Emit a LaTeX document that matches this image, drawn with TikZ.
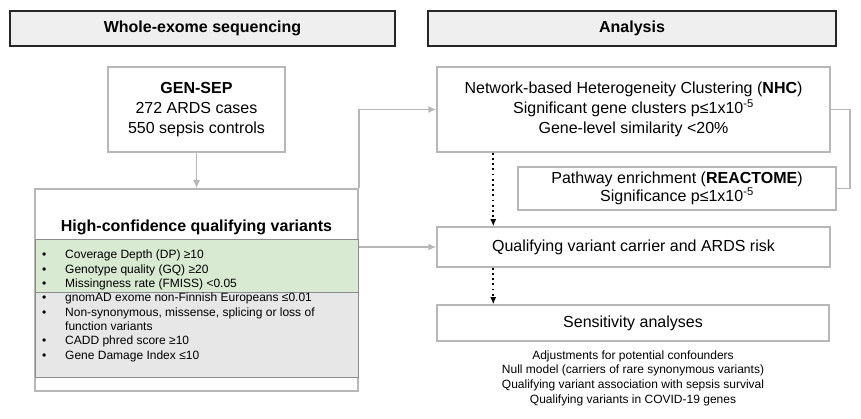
\documentclass[tikz,border=0pt]{standalone}
\usepackage{fontspec}
\setmainfont{Liberation Sans}
\usepackage{xcolor}
\usetikzlibrary{positioning}
\usetikzlibrary{arrows.meta}
\usetikzlibrary{calc}

\definecolor{headfill}{HTML}{EFEFEF}
\definecolor{boxline}{HTML}{B7B7B7}
\definecolor{qcgreen}{HTML}{D9EAD3}
\definecolor{qcgray}{HTML}{E7E7E7}
\definecolor{bandline}{HTML}{8C8C8C}

\begin{document}
\begin{tikzpicture}[x=1pt, y=-1pt,
            font=\fontsize{16}{20}\selectfont,
            head/.style={draw=black!85, fill=headfill, line width=1.5pt, rectangle,
            minimum height=35pt, align=center, font=\fontsize{16}{20}\selectfont\bfseries},
            box/.style={draw=boxline, fill=white, line width=1.5pt, rectangle, align=center},
            band/.style={draw=bandline, line width=1pt, rectangle, minimum width=323pt},
            small/.style={align=left, inner sep=0pt, font=\fontsize{12}{14.4}\selectfont},
            link/.style={draw=boxline, line width=1.5pt, -{Latex[length=8pt,width=7pt]}},
            plain/.style={draw=boxline, line width=1.5pt},
            dotlink/.style={line width=1.8pt, dash pattern=on 1.8pt off 3.4pt,
            -{Latex[length=7pt,width=6pt,sep=0pt]}}]
            \useasboundingbox (0,0) rectangle (861,419);

            % headers
            \node[head, minimum width=385pt] (wes) at (202.5,28.5) {Whole-exome sequencing};
            \node[head, minimum width=408pt] (ana) at (632,28.5) {Analysis};

            % left column
            \node[box, minimum width=177pt, minimum height=85pt] (gensep) at (196.5,109.5)
                {\textbf{GEN-SEP}\\272 ARDS cases\\550 sepsis controls};
            \node[box, minimum width=323pt, minimum height=202pt] (hcqv) at (196.5,290) {};
            \node[band, fill=qcgreen, minimum height=53pt] (qcband) at (196.5,266.5) {};
            \node[band, fill=qcgray, minimum height=84pt] (rareband) at (196.5,335) {};
            \node[font=\fontsize{16}{20}\selectfont\bfseries] (hctitle) at (196.5,227)
                {High-confidence qualifying variants};
            \node[small, anchor=north west] (qclist) at (42,248.5) {%
                \begin{tabular}{@{}p{23pt}@{}l@{}}
                \textbullet & Coverage Depth (DP) ≥10\\
                \textbullet & Genotype quality (GQ) ≥20\\
                \textbullet & Missingness rate (FMISS) <0.05
                \end{tabular}};
            \node[small, anchor=north west] (rarelist) at (42,291.5) {%
                \begin{tabular}{@{}p{23pt}@{}l@{}}
                \textbullet & gnomAD exome non-Finnish Europeans ≤0.01\\
                \textbullet & Non-synonymous, missense, splicing or loss of\\
                            & function variants\\
                \textbullet & CADD phred score ≥10\\
                \textbullet & Gene Damage Index ≤10
                \end{tabular}};

            % right column
            \node[box, minimum width=393pt, minimum height=85pt] (nhc) at (633.5,109.5)
                {Network-based Heterogeneity Clustering (\textbf{NHC})\\
                 Significant gene clusters p≤1x10\textsuperscript{-5}\\
                 Gene-level similarity <20\%};
            \node[box, minimum width=318pt, minimum height=43pt, font=\fontsize{16}{18.5}\selectfont]
                (reactome) at (677,188.5)
                {Pathway enrichment (\textbf{REACTOME})\\Significance p≤1x10\textsuperscript{-5}};
            \node[box, minimum width=393pt, minimum height=40pt] (qv) at (633.5,247)
                {Qualifying variant carrier and ARDS risk};
            \node[box, minimum width=392pt, minimum height=36pt] (sens) at (633,323)
                {Sensitivity analyses};
            \node[small, align=center, font=\fontsize{12}{14.6}\selectfont] (sensnotes) at (633,378)
                {Adjustments for potential confounders\\
                 Null model (carriers of rare synonymous variants)\\
                 Qualifying variant association with sepsis survival\\
                 Qualifying variants in COVID-19 genes};

            % connectors
            \draw[link] (gensep) -- (hcqv);
            \draw[link] (hcqv.north east) |- (nhc.west);
            \draw[link] (hcqv.east |- qv.west) -- (qv.west);
            \draw[plain] (nhc.east) -- ++(19,0) |- (reactome.east);
            \draw[dotlink] ([xshift=57pt]nhc.south west) -- ([xshift=57pt]qv.north west);
            \draw[dotlink] ([xshift=57pt]qv.south west) -- ([xshift=57pt]sens.north west);
        \end{tikzpicture}
\end{document}
